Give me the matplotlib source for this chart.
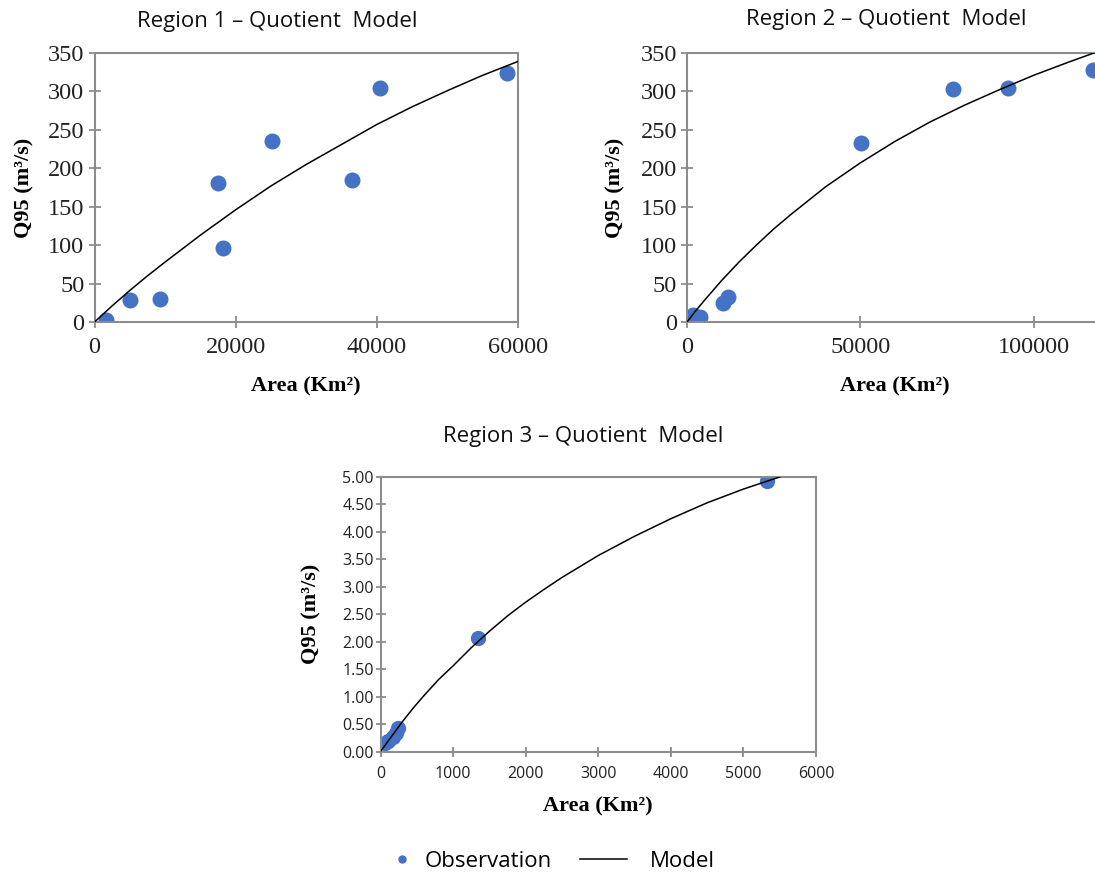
import matplotlib
matplotlib.use("Agg")
import matplotlib.pyplot as plt
from matplotlib.lines import Line2D
from matplotlib.ticker import FormatStrFormatter, MultipleLocator

# ---- Region 1 -------------------------------------------------------------
r1_area = [1600, 5100, 9300, 17500, 18200, 25200, 36500, 40500, 58500]
r1_q95 = [3, 28, 30, 181, 96, 235, 185, 305, 324]
r1_model_area = [0, 2500, 5000, 7500, 10000, 15000, 20000, 25000, 30000,
                 35000, 40000, 45000, 50000, 55000, 60000]
r1_model_q95 = [0, 21, 41, 60, 78, 113, 146, 177, 205, 231, 257, 280, 301,
                321, 339]

# ---- Region 2 -------------------------------------------------------------
r2_area = [1800, 3700, 10400, 11900, 50200, 76600, 92500, 117200]
r2_q95 = [9, 7, 25, 33, 233, 303, 305, 328]
r2_model_area = [0, 2500, 5000, 7500, 10000, 15000, 20000, 25000, 30000,
                 40000, 50000, 60000, 70000, 80000, 90000, 100000, 110000,
                 118000]
r2_model_q95 = [0, 14.5, 28, 41, 54, 78, 100, 121, 140, 176, 207, 235, 260,
                282, 302, 321, 338, 351]

# ---- Region 3 -------------------------------------------------------------
r3_area = [60, 110, 170, 210, 240, 1340, 5320]
r3_q95 = [0.16, 0.20, 0.27, 0.33, 0.42, 2.07, 4.93]
r3_model_area = [0, 100, 200, 300, 450, 600, 800, 1000, 1250, 1500, 1750,
                 2000, 2250, 2500, 3000, 3500, 4000, 4500, 5000, 5500]
r3_model_q95 = [0, 0.18, 0.36, 0.54, 0.79, 1.02, 1.31, 1.56, 1.89, 2.19,
                2.47, 2.72, 2.95, 3.17, 3.57, 3.92, 4.24, 4.53, 4.78, 5.00]

titles = ["Region 1 \u2013 Quotient  Model",
          "Region 2 \u2013 Quotient  Model",
          "Region 3 \u2013 Quotient  Model"]
x_label = "Area (Km\u00b2)"
y_label = "Q95 (m\u00b3/s)"
legend_labels = ["Observation", "Model"]

OBS_COLOR = "#4472C4"
FRAME = "#8c8c8c"
SANS = "Open Sans"
SERIF = "Liberation Serif"

W, H = 1095, 873
fig = plt.figure(figsize=(W / 100, H / 100), dpi=100)


def rect(left, right, top, bottom):
    return [left / W, 1 - bottom / H, (right - left) / W, (bottom - top) / H]


def style_axes(ax, tick_font, tick_size, xpad, ypad, tlen):
    for sp in ax.spines.values():
        sp.set_color(FRAME)
        sp.set_linewidth(1.5)
    ax.tick_params(direction="inout", length=tlen, width=1.3, color=FRAME,
                   labelsize=tick_size, labelcolor="#222222",
                   labelfontfamily=tick_font)
    ax.tick_params(axis="x", pad=xpad)
    ax.tick_params(axis="y", pad=ypad)


def draw(ax, area, q95, m_area, m_q95, msize):
    ax.plot(area, q95, linestyle="none", marker="o", markersize=msize,
            color=OBS_COLOR, zorder=2)
    ax.plot(m_area, m_q95, color="black", linewidth=1.1, zorder=3,
            solid_joinstyle="round")


def labels(ax, ylab_x, xlab_y):
    ax.set_xlabel(x_label, family=SERIF, fontweight="bold", fontsize=16,
                  va="center")
    ax.set_ylabel(y_label, family=SERIF, fontweight="bold", fontsize=16,
                  va="center")
    ax.xaxis.set_label_coords(0.5, xlab_y)
    ax.yaxis.set_label_coords(ylab_x, 0.5)


# Region 1 panel
ax1 = fig.add_axes(rect(94.5, 518, 53, 322))
draw(ax1, r1_area, r1_q95, r1_model_area, r1_model_q95, 10.5)
ax1.set_xlim(0, 60000)
ax1.set_ylim(0, 350)
ax1.xaxis.set_major_locator(MultipleLocator(20000))
ax1.yaxis.set_major_locator(MultipleLocator(50))
style_axes(ax1, SERIF, 17.5, 6.5, 3.0, 8.5)
labels(ax1, (24.5 - 94.5) / 423.5, (322 - 386.7) / 269)

# Region 2 panel (its right edge runs past the figure border)
ax2 = fig.add_axes(rect(687, 1103, 53, 322))
draw(ax2, r2_area, r2_q95, r2_model_area, r2_model_q95, 10.5)
ax2.set_xlim(0, 120000)
ax2.set_ylim(0, 350)
ax2.xaxis.set_major_locator(MultipleLocator(50000))
ax2.yaxis.set_major_locator(MultipleLocator(50))
style_axes(ax2, SERIF, 17.5, 6.5, 3.0, 8.5)
labels(ax2, (615 - 687) / 416, (322 - 386.7) / 269)

# Region 3 panel
ax3 = fig.add_axes(rect(380.5, 816, 477, 751.5))
draw(ax3, r3_area, r3_q95, r3_model_area, r3_model_q95, 10)
ax3.set_xlim(0, 6000)
ax3.set_ylim(0, 5)
ax3.xaxis.set_major_locator(MultipleLocator(1000))
ax3.yaxis.set_major_locator(MultipleLocator(0.5))
ax3.yaxis.set_major_formatter(FormatStrFormatter("%.2f"))
style_axes(ax3, SANS, 11.5, 7, 1, 7.5)
labels(ax3, (311.5 - 380.5) / 435.5, (751.5 - 806.7) / 274.5)

# Panel titles
for (cx, cy), t in zip([(277.5, 21.7), (886, 20), (583, 436.7)], titles):
    fig.text(cx / W, 1 - cy / H, t, family=SANS, fontsize=16,
             ha="center", va="center", color="#111111")

# Shared legend at the bottom
obs_handle = Line2D([], [], linestyle="none", marker="o", markersize=5,
                    color=OBS_COLOR)
model_handle = Line2D([], [], color="black", linewidth=1.1)
leg_y = 1 - 861.7 / H
fig.legend([obs_handle], [legend_labels[0]], loc="center left",
           bbox_to_anchor=(391.3 / W, leg_y), frameon=False, borderpad=0,
           borderaxespad=0, handlelength=0.94, handletextpad=0.58,
           prop={"family": SANS, "size": 16})
fig.legend([model_handle], [legend_labels[1]], loc="center left",
           bbox_to_anchor=(580 / W, leg_y), frameon=False, borderpad=0,
           borderaxespad=0, handlelength=2.12, handletextpad=1.04,
           prop={"family": SANS, "size": 16})

fig.savefig("out.png", dpi=100)
